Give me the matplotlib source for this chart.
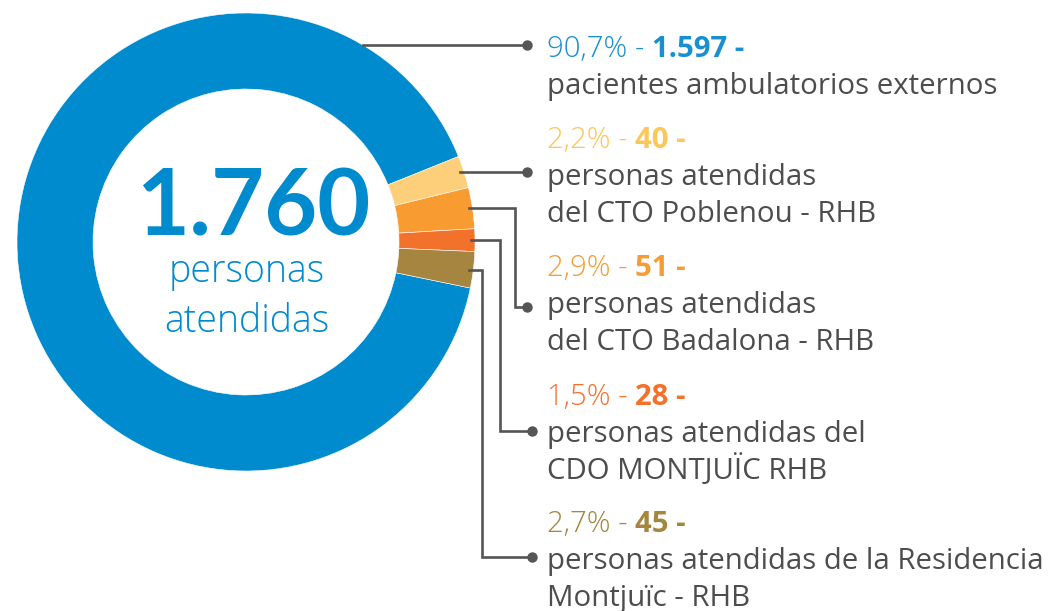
import matplotlib
matplotlib.use("Agg")
import matplotlib.pyplot as plt
import numpy as np

# Data
categories = ["pacientes ambulatorios externos",
              "personas atendidas\ndel CTO Poblenou - RHB",
              "personas atendidas\ndel CTO Badalona - RHB",
              "personas atendidas del\nCDO MONTJUÏC RHB",
              "personas atendidas de la Residencia\nMontjuïc - RHB"]
counts = [1597, 40, 51, 28, 45]
pct_labels = ["90,7%", "2,2%", "2,9%", "1,5%", "2,7%"]
total_label = "1.760"

colors = ["#008bce", "#fdcf7a", "#f89c32", "#f2722c", "#a5853f"]
text_colors = ["#1a8fd0", "#fcc65a", "#f79c34", "#f2722c", "#a6863f"]
gray = "#4d4d4d"
line_gray = "#555555"

W, H = 1049, 611
fig = plt.figure(figsize=(W / 100, H / 100), dpi=100)
ax = fig.add_axes([0, 0, 1, 1])

cx, cy, R = 246, H - 242, 229
ring = 76

wedges, _ = ax.pie(counts, colors=colors, startangle=-11.6, counterclock=False,
                   radius=R, center=(cx, cy),
                   wedgeprops=dict(width=ring, edgecolor="#ffffff", linewidth=0.4))
ax.set_xlim(0, W)
ax.set_ylim(0, H)
ax.set_aspect("equal")
ax.axis("off")

# center label
ax.text(253, H - 236, total_label, ha="center", va="baseline", fontsize=66,
        fontweight="bold", color=colors[0], family="Lato")
ax.text(247, H - 282, "personas", ha="center", va="baseline", fontsize=27,
        fontweight="light", color=colors[0], family="Open Sans")
ax.text(247, H - 332, "atendidas", ha="center", va="baseline", fontsize=27,
        fontweight="light", color=colors[0], family="Open Sans")

# right-side labels
tx = 547
first_baselines = [57, 148, 276, 405, 532]
line_step = 37
fs = 21.2
renderer = fig.canvas.get_renderer()
for i in range(len(counts)):
    yb = H - first_baselines[i]
    t1 = ax.text(tx, yb, pct_labels[i] + " - ", ha="left", va="baseline",
                 fontsize=fs, fontweight="light", color=text_colors[i],
                 family="Open Sans")
    x_end = ax.transData.inverted().transform(t1.get_window_extent(renderer))[1][0]
    num = f"{counts[i]:,}".replace(",", ".")
    ax.text(x_end, yb, num + " -", ha="left", va="baseline", fontsize=fs,
            fontweight="bold", color=text_colors[i], family="Open Sans")
    for j, line in enumerate(categories[i].split("\n")):
        ax.text(tx, yb - (j + 1) * line_step, line, ha="left", va="baseline",
                fontsize=fs, color=gray, family="Open Sans")

# leader lines
dot_x = [527, 527, 527, 532, 532]
dot_y = [45, 172, 307, 431, 557]
elbow_x = [None, None, 515, 500, 482]
lw = 1.9
for i, w in enumerate(wedges):
    dy = H - dot_y[i]
    if i == 0:
        x0 = cx + np.sqrt(R ** 2 - (dy - cy) ** 2)
        xs, ys = [x0, dot_x[i]], [dy, dy]
    else:
        mid = np.deg2rad((w.theta1 + w.theta2) / 2)
        x0 = cx + (R - 4) * np.cos(mid)
        y0 = cy + R * np.sin(mid)
        if elbow_x[i] is None:
            xs, ys = [x0, dot_x[i]], [dy, dy]
        else:
            xs = [x0, elbow_x[i], elbow_x[i], dot_x[i]]
            ys = [y0, y0, dy, dy]
    ax.plot(xs, ys, color=line_gray, lw=lw, solid_joinstyle="miter")
    ax.plot(dot_x[i], dy, "o", color=line_gray, ms=7.5, mew=0)

fig.savefig("out.png", dpi=100)
